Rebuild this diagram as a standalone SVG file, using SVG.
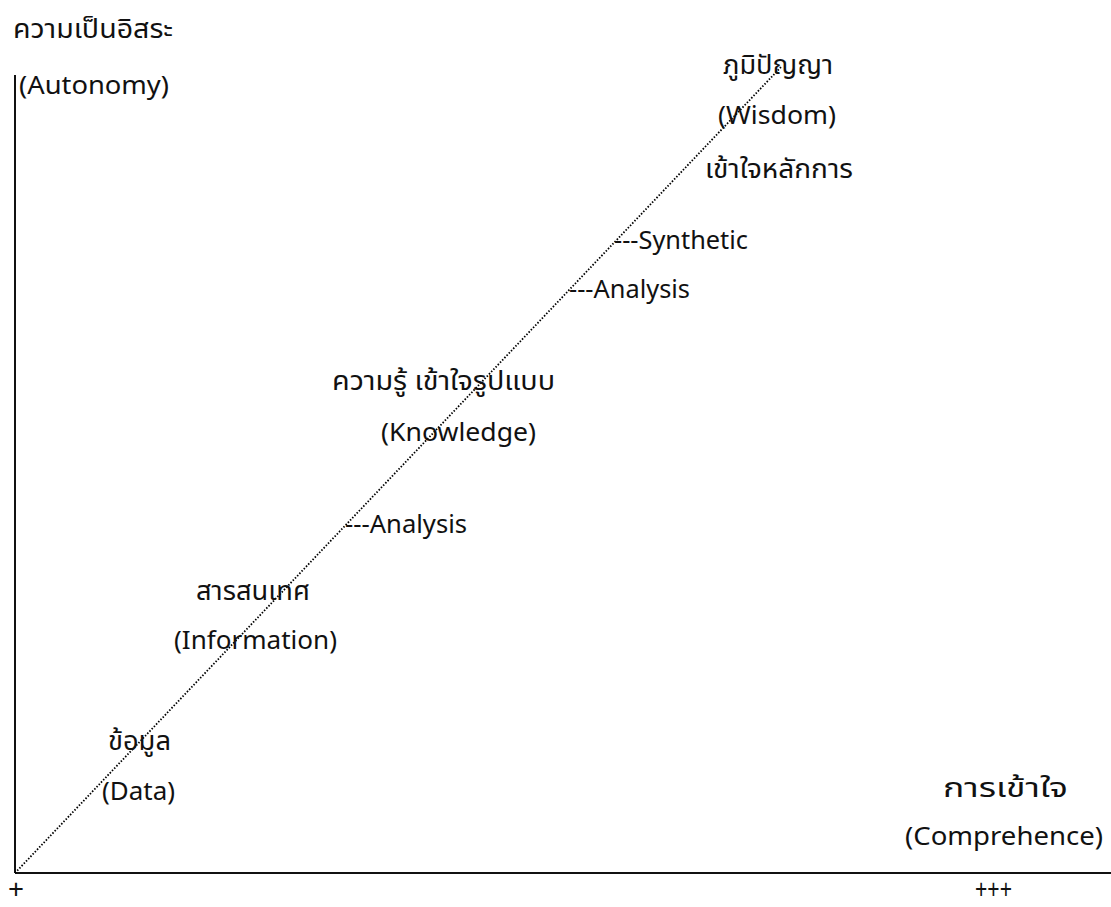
<svg xmlns="http://www.w3.org/2000/svg" width="1111" height="907" viewBox="0 0 1111 907">
<style>
text{font-family:"Noto Sans","Noto Sans Thai","Tahoma",sans-serif;font-size:26px;fill:#111}
.axis{stroke:#111;stroke-width:2;fill:none}
.dot{stroke:#000;stroke-width:1.8;stroke-dasharray:1.5 1.7;fill:none}
.sm{font-size:25px}
.tick{font-size:28px}
</style>
<rect width="1111" height="907" fill="#fff"/>
<g id="connectors">
<line class="axis" x1="15" y1="75" x2="15" y2="873"/>
<line class="axis" x1="15" y1="873" x2="1111" y2="873"/>
<line class="dot" x1="15" y1="873" x2="782" y2="66"/>
</g>
<g id="axis-y"><text x="13" y="38" textLength="160" lengthAdjust="spacingAndGlyphs">ความเป็นอิสระ</text><text x="19" y="94" textLength="150" lengthAdjust="spacingAndGlyphs">(Autonomy)</text></g>
<g id="wisdom"><text x="723" y="74" textLength="110" lengthAdjust="spacingAndGlyphs">ภูมิปัญญา</text><text x="718" y="124" textLength="118" lengthAdjust="spacingAndGlyphs">(Wisdom)</text><text x="705" y="178" textLength="148" lengthAdjust="spacingAndGlyphs">เข้าใจหลักการ</text></g>
<g id="synthetic"><text class="sm" x="614" y="249" textLength="134" lengthAdjust="spacingAndGlyphs">---Synthetic</text></g>
<g id="analysis2"><text class="sm" x="569" y="298" textLength="121" lengthAdjust="spacingAndGlyphs">---Analysis</text></g>
<g id="knowledge"><text x="332" y="390" textLength="223" lengthAdjust="spacingAndGlyphs">ความรู้ เข้าใจรูปแบบ</text><text x="381" y="441" textLength="155" lengthAdjust="spacingAndGlyphs">(Knowledge)</text></g>
<g id="analysis1"><text class="sm" x="345" y="533" textLength="122" lengthAdjust="spacingAndGlyphs">---Analysis</text></g>
<g id="information"><text x="196" y="600" textLength="114" lengthAdjust="spacingAndGlyphs">สารสนเทศ</text><text x="174" y="649" textLength="163" lengthAdjust="spacingAndGlyphs">(Information)</text></g>
<g id="data"><text x="108" y="750" textLength="63" lengthAdjust="spacingAndGlyphs">ข้อมูล</text><text x="102" y="800" textLength="73" lengthAdjust="spacingAndGlyphs">(Data)</text></g>
<g id="axis-x"><text x="943" y="797" textLength="125" lengthAdjust="spacingAndGlyphs">การเข้าใจ</text><text x="905" y="845" textLength="198" lengthAdjust="spacingAndGlyphs">(Comprehence)</text></g>
<g id="ticks"><text class="tick" x="8" y="899">+</text><text class="tick" x="975" y="899" textLength="37" lengthAdjust="spacingAndGlyphs">+++</text></g>
</svg>
